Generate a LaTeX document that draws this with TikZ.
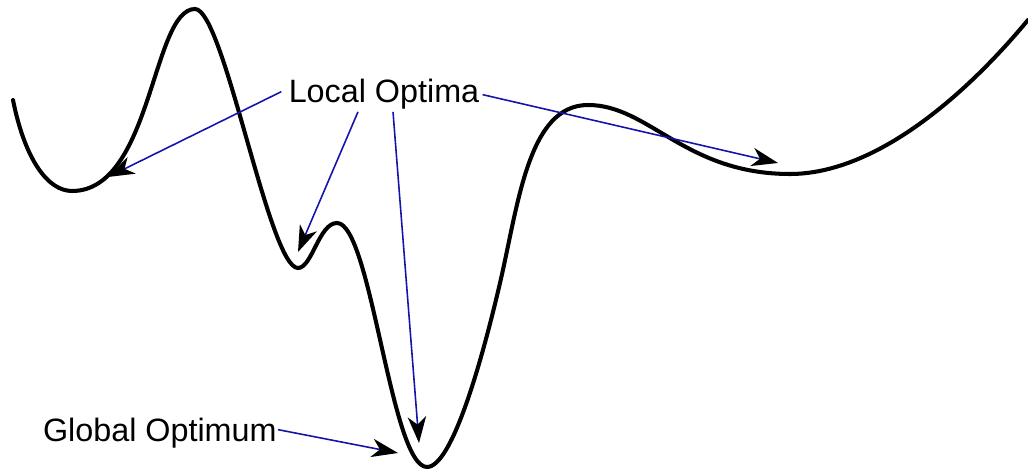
\documentclass[tikz,border=0pt]{standalone}
\usepackage{fontspec}
\setmainfont{Liberation Sans}
\usetikzlibrary{arrows.meta,calc}
\definecolor{pointer}{RGB}{20,20,170}

\begin{document}
\begin{tikzpicture}[x=0.02cm,y=-0.02cm,
    lbl/.style={font=\fontsize{18.4}{22}\selectfont,inner xsep=4pt,inner ysep=1pt},
    ptr/.style={pointer,line width=0.9pt,-{Stealth[length=15pt,width=10.5pt,inset=4.5pt,black]}}]
    \useasboundingbox (0,0) rectangle (1028,469);
    % the landscape
    \draw[line width=2.3pt,line cap=round]
        (13,100) .. controls (25,160) and (48,191) .. (72,191)
        .. controls (152,191) and (152,9) .. (195,9)
        .. controls (224,9) and (269,268) .. (298,268)
        .. controls (312,268) and (319,223) .. (337,223)
        .. controls (371,223) and (391,467) .. (427,467)
        .. controls (452,467) and (481.8,361.1) .. (500,283)
        .. controls (518.2,205.1) and (528,105) .. (588,105)
        .. controls (649,105) and (685,174) .. (790,174)
        .. controls (870,174) and (957.6,104.7) .. (1028,20);
    \node[lbl,anchor=base](lo)at (384,103){Local Optima};
    \node[lbl,anchor=base east](go)at (284,441){Global Optimum};
    \coordinate (m1) at (108,177);
    \coordinate (m2) at (298,252);
    \coordinate (m3) at (419,443);
    \coordinate (m4) at (778,163);
    \coordinate (g) at (398,453);
    \draw[ptr] ($(lo.west)+(0,-3)$)--(m1);
    \draw[ptr] ($(lo.south)+(-26,0)$)--(m2);
    \draw[ptr] ($(lo.south)+(9,0)$)--(m3);
    \draw[ptr] ($(lo.east)+(-4,0)$)--(m4);
    \draw[ptr] ($(go.east)+(-6,-3)$)--(g);
\end{tikzpicture}
\end{document}
